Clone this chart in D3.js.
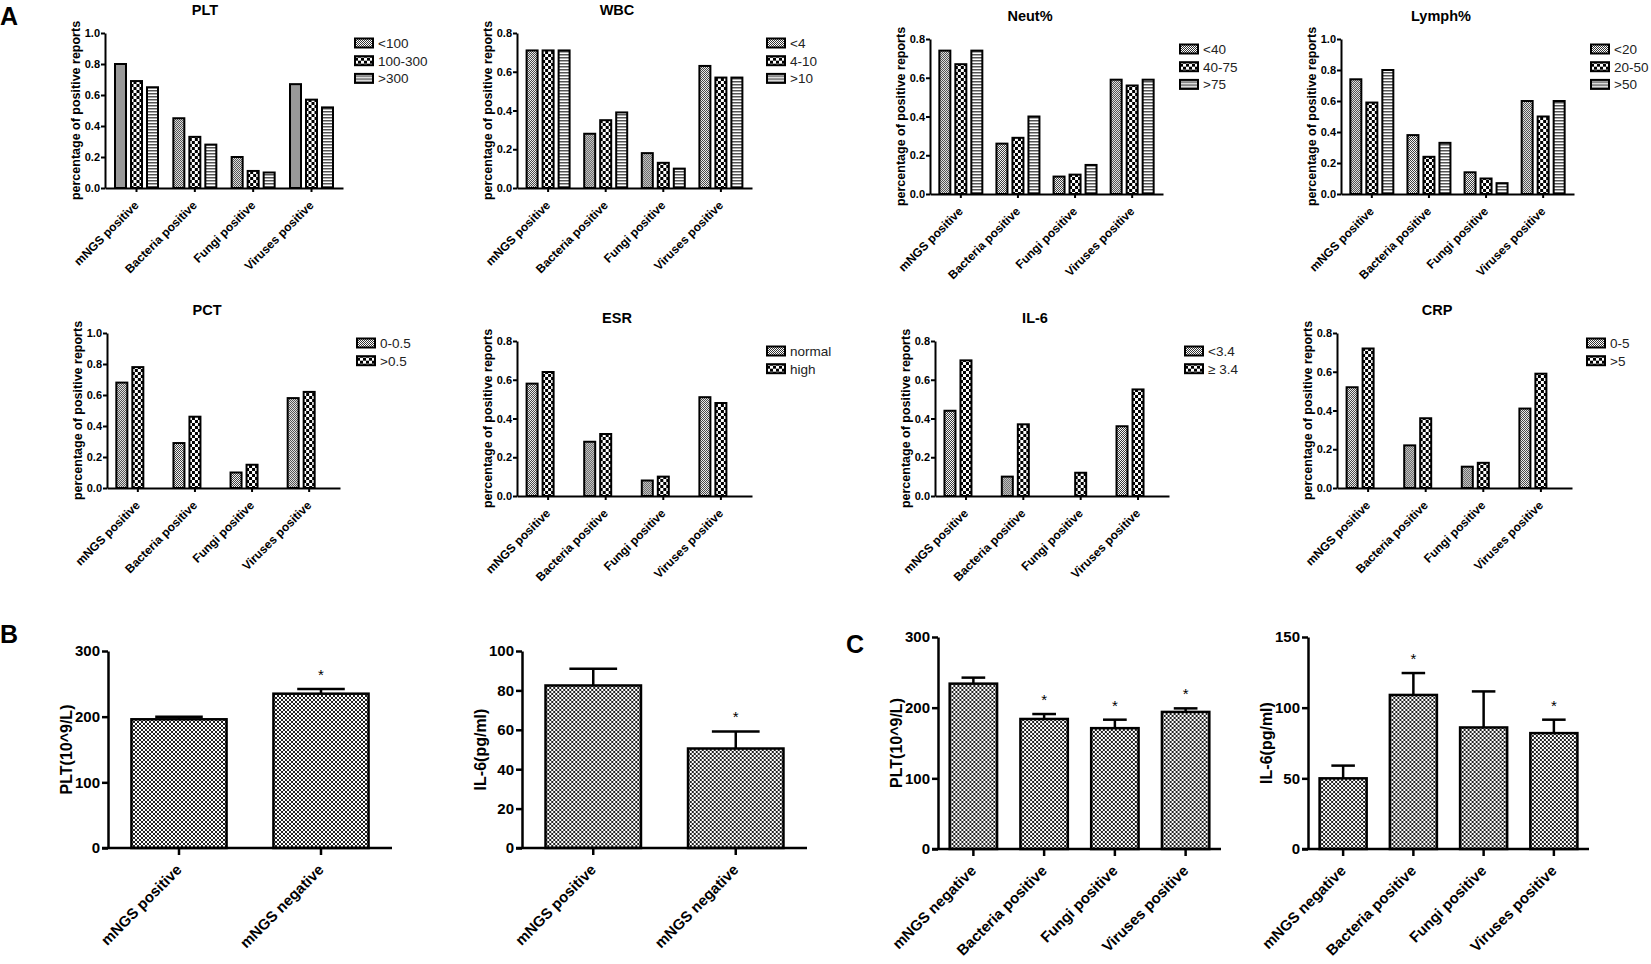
<!DOCTYPE html>
<html lang="en">
<head>
<meta charset="utf-8">
<title>mNGS positive reports and laboratory indices</title>
<script src="https://cdn.jsdelivr.net/npm/d3@7/dist/d3.min.js"></script>
<style>
  body { margin: 0; background: #fff; }
  text { font-family: "Liberation Sans", Arial, sans-serif; fill: #000; }
  .tick text { font-weight: bold; }
  .small .tick text { font-size: 11px; }
  .big .tick text {
    font-family: "Liberation Sans Narrow", "Arial Narrow", "Liberation Sans", sans-serif;
    font-stretch: condensed;
    font-size: 15px;
  }
  .title { font-size: 14.5px; font-weight: bold; }
  .ylab { font-size: 12.5px; font-weight: bold; }
  .ylab-big { font-size: 16px; font-weight: bold; }
  .small .tick text.xlab { font-size: 12px; font-weight: bold; }
  .big .tick text.xlab-big {
    font-family: "Liberation Sans", Arial, sans-serif;
    font-stretch: normal;
    font-size: 15px;
    font-weight: bold;
  }
  .legend { font-size: 13.5px; fill: #222; }
  .star { font-size: 15px; }
  .letter { font-size: 25px; font-weight: bold; }
</style>
</head>
<body>
<script>

var w = 1651;
var h = 964;

// ---- data: panel A ----
var groups = ["mNGS positive", "Bacteria positive", "Fungi positive", "Viruses positive"];

var pltLevels = ["<100", "100-300", ">300"];
var pltValues = [[0.80, 0.69, 0.65], [0.45, 0.33, 0.28], [0.20, 0.11, 0.10], [0.67, 0.57, 0.52]];

var wbcLevels = ["<4", "4-10", ">10"];
var wbcValues = [[0.71, 0.71, 0.71], [0.28, 0.35, 0.39], [0.18, 0.13, 0.10], [0.63, 0.57, 0.57]];

var neutLevels = ["<40", "40-75", ">75"];
var neutValues = [[0.74, 0.67, 0.74], [0.26, 0.29, 0.40], [0.09, 0.10, 0.15], [0.59, 0.56, 0.59]];

var lymphLevels = ["<20", "20-50", ">50"];
var lymphValues = [[0.74, 0.59, 0.80], [0.38, 0.24, 0.33], [0.14, 0.10, 0.07], [0.60, 0.50, 0.60]];

var pctLevels = ["0-0.5", ">0.5"];
var pctValues = [[0.68, 0.78], [0.29, 0.46], [0.10, 0.15], [0.58, 0.62]];

var esrLevels = ["normal", "high"];
var esrValues = [[0.58, 0.64], [0.28, 0.32], [0.08, 0.10], [0.51, 0.48]];

var il6Levels = ["<3.4", "\u2265 3.4"];
var il6Values = [[0.44, 0.70], [0.10, 0.37], [0.00, 0.12], [0.36, 0.55]];

var crpLevels = ["0-5", ">5"];
var crpValues = [[0.52, 0.72], [0.22, 0.36], [0.11, 0.13], [0.41, 0.59]];

// ---- data: panels B and C ----
var bCats = ["mNGS positive", "mNGS negative"];
var bPltMeans = [196, 235];
var bPltErrs = [4, 7];
var bPltStars = [false, true];
var bIl6Means = [82.5, 50.5];
var bIl6Errs = [8.5, 8.7];
var bIl6Stars = [false, true];

var cCats = ["mNGS negative", "Bacteria positive", "Fungi positive", "Viruses positive"];
var cPltMeans = [234, 184, 171, 194];
var cPltErrs = [8.5, 7, 12, 5];
var cPltStars = [false, true, true, true];
var cIl6Means = [50, 109, 86, 82];
var cIl6Errs = [9, 15.5, 25.5, 9.5];
var cIl6Stars = [false, true, false, true];

var svg = d3.select("body").append("svg")
    .attr("width", w)
    .attr("height", h);

// ---- fill patterns ----
var defs = svg.append("defs");

var dots = defs.append("pattern").attr("id", "p-dots")
    .attr("patternUnits", "userSpaceOnUse").attr("width", 2).attr("height", 2);
dots.append("rect").attr("width", 2).attr("height", 2).attr("fill", "#fff");
dots.append("rect").attr("width", 1).attr("height", 1).attr("fill", "#333");
dots.append("rect").attr("x", 1).attr("y", 1).attr("width", 1).attr("height", 1).attr("fill", "#333");

var check = defs.append("pattern").attr("id", "p-check")
    .attr("patternUnits", "userSpaceOnUse").attr("width", 6).attr("height", 6);
check.append("rect").attr("width", 6).attr("height", 6).attr("fill", "#000");
check.append("rect").attr("width", 3).attr("height", 3).attr("fill", "#fff");
check.append("rect").attr("x", 3).attr("y", 3).attr("width", 3).attr("height", 3).attr("fill", "#fff");

var hline = defs.append("pattern").attr("id", "p-hline")
    .attr("patternUnits", "userSpaceOnUse").attr("width", 4).attr("height", 3);
hline.append("rect").attr("width", 4).attr("height", 3).attr("fill", "#fff");
hline.append("rect").attr("width", 4).attr("height", 1.5).attr("fill", "#555");

var fine = defs.append("pattern").attr("id", "p-fine")
    .attr("patternUnits", "userSpaceOnUse").attr("width", 4).attr("height", 4);
fine.append("rect").attr("width", 4).attr("height", 4).attr("fill", "#fff");
fine.append("rect").attr("width", 2).attr("height", 2).attr("fill", "#222");
fine.append("rect").attr("x", 2).attr("y", 2).attr("width", 2).attr("height", 2).attr("fill", "#222");

var fills = ["url(#p-dots)", "url(#p-check)", "url(#p-hline)"];

// ---- panel A: grouped bars ----
var panelsA = [
  { title: "PLT",    levels: pltLevels,   values: pltValues,   yMax: 1.0, x: 105,  y: 33,  w: 238 },
  { title: "WBC",    levels: wbcLevels,   values: wbcValues,   yMax: 0.8, x: 517,  y: 33,  w: 235 },
  { title: "Neut%",  levels: neutLevels,  values: neutValues,  yMax: 0.8, x: 930,  y: 39,  w: 233 },
  { title: "Lymph%", levels: lymphLevels, values: lymphValues, yMax: 1.0, x: 1341, y: 39,  w: 233 },
  { title: "PCT",    levels: pctLevels,   values: pctValues,   yMax: 1.0, x: 107,  y: 333, w: 233 },
  { title: "ESR",    levels: esrLevels,   values: esrValues,   yMax: 0.8, x: 517,  y: 341, w: 235 },
  { title: "IL-6",   levels: il6Levels,   values: il6Values,   yMax: 0.8, x: 935,  y: 341, w: 234 },
  { title: "CRP",    levels: crpLevels,   values: crpValues,   yMax: 0.8, x: 1337, y: 333, w: 235 }
];

panelsA.forEach(function(p) {
  var ph = 155;
  var g = svg.append("g").attr("class", "small")
      .attr("transform", "translate(" + p.x + "," + p.y + ")");

  var y = d3.scaleLinear().domain([0, p.yMax]).range([ph, 0]);
  var x0 = d3.scaleBand().domain(groups).range([0, p.w]).paddingOuter(0.04);
  var x1 = d3.scaleBand().domain([0, 1, 2]).range([-21.5, 21.5]).paddingInner(0.3125);

  var grp = g.selectAll("g.grp")
      .data(p.values)
      .enter()
      .append("g")
      .attr("class", "grp")
      .attr("transform", function(d, i) {
          return "translate(" + (x0(groups[i]) + x0.bandwidth() / 2) + ",0)";
      });

  grp.selectAll("rect")
      .data(function(d) {
          return d.map(function(v, k) { return { v: v, k: k }; })
                  .filter(function(e) { return e.v > 0; });
      })
      .enter()
      .append("rect")
      .attr("x", function(d) { return x1(d.k); })
      .attr("y", function(d) { return y(d.v); })
      .attr("width", x1.bandwidth())
      .attr("height", function(d) { return ph - y(d.v); })
      .attr("fill", function(d) { return fills[d.k]; })
      .attr("stroke", "#000")
      .attr("stroke-width", 2);

  var ya = g.append("g")
      .call(d3.axisLeft(y)
          .tickValues(d3.range(0, p.yMax + 1e-9, 0.2))
          .tickFormat(d3.format(".1f"))
          .tickSize(4)
          .tickSizeOuter(0)
          .tickPadding(1));
  ya.select(".domain").attr("stroke-width", 2);
  ya.selectAll(".tick line").attr("stroke-width", 2);

  var xa = g.append("g")
      .attr("transform", "translate(0," + ph + ")")
      .call(d3.axisBottom(x0).tickSize(4).tickSizeOuter(0));
  xa.select(".domain").attr("stroke-width", 2);
  xa.selectAll(".tick line").attr("stroke-width", 2);
  xa.selectAll(".tick text")
      .attr("class", "xlab")
      .attr("x", 0)
      .attr("y", 0)
      .attr("dy", "0.35em")
      .attr("text-anchor", "end")
      .attr("transform", "translate(0,15) rotate(-45)");

  g.append("text")
      .attr("class", "title")
      .attr("x", 100)
      .attr("y", -18)
      .attr("text-anchor", "middle")
      .text(p.title);

  g.append("text")
      .attr("class", "ylab")
      .attr("transform", "translate(-29," + (ph / 2) + ") rotate(-90)")
      .attr("dy", "0.35em")
      .attr("text-anchor", "middle")
      .text("percentage of positive reports");

  var lg = g.selectAll("g.leg")
      .data(p.levels)
      .enter()
      .append("g")
      .attr("class", "leg")
      .attr("transform", function(d, i) { return "translate(250," + (10 + i * 17.7) + ")"; });
  lg.append("rect")
      .attr("x", 0)
      .attr("y", -4.5)
      .attr("width", 18)
      .attr("height", 9)
      .attr("fill", function(d, i) { return fills[i]; })
      .attr("stroke", "#000")
      .attr("stroke-width", 2);
  lg.append("text")
      .attr("class", "legend")
      .attr("x", 23)
      .attr("dy", "0.36em")
      .text(function(d) { return d; });
});

// ---- panels B and C: mean + error bars ----
var panelsBC = [
  { cats: bCats, means: bPltMeans, errs: bPltErrs, stars: bPltStars, yMax: 300, step: 100,
    label: "PLT(10^9/L)", x: 108, y: 651, w: 284, h: 197 },
  { cats: bCats, means: bIl6Means, errs: bIl6Errs, stars: bIl6Stars, yMax: 100, step: 20,
    label: "IL-6(pg/ml)", x: 522, y: 651, w: 285, h: 197 },
  { cats: cCats, means: cPltMeans, errs: cPltErrs, stars: cPltStars, yMax: 300, step: 100,
    label: "PLT(10^9/L)", x: 938, y: 637, w: 283, h: 212 },
  { cats: cCats, means: cIl6Means, errs: cIl6Errs, stars: cIl6Stars, yMax: 150, step: 50,
    label: "IL-6(pg/ml)", x: 1308, y: 637, w: 281, h: 212 }
];

panelsBC.forEach(function(p) {
  var g = svg.append("g").attr("class", "big")
      .attr("transform", "translate(" + p.x + "," + p.y + ")");

  var y = d3.scaleLinear().domain([0, p.yMax]).range([p.h, 0]);
  var x = d3.scaleBand().domain(p.cats).range([0, p.w]).paddingInner(0.33).paddingOuter(0.165);
  var bw = x.bandwidth();

  var rows = p.cats.map(function(c, i) {
      return { cat: c, mean: p.means[i], err: p.errs[i], star: p.stars[i] };
  });

  var bar = g.selectAll("g.bar")
      .data(rows)
      .enter()
      .append("g")
      .attr("class", "bar")
      .attr("transform", function(d) { return "translate(" + (x(d.cat) + bw / 2) + ",0)"; });

  bar.append("line")
      .attr("x1", 0).attr("x2", 0)
      .attr("y1", function(d) { return y(d.mean); })
      .attr("y2", function(d) { return y(d.mean + d.err); })
      .attr("stroke", "#000").attr("stroke-width", 2.5);
  bar.append("line")
      .attr("x1", -bw / 4).attr("x2", bw / 4)
      .attr("y1", function(d) { return y(d.mean + d.err); })
      .attr("y2", function(d) { return y(d.mean + d.err); })
      .attr("stroke", "#000").attr("stroke-width", 2.5);
  bar.append("rect")
      .attr("x", -bw / 2)
      .attr("y", function(d) { return y(d.mean); })
      .attr("width", bw)
      .attr("height", function(d) { return p.h - y(d.mean); })
      .attr("fill", "url(#p-fine)")
      .attr("stroke", "#000")
      .attr("stroke-width", 2.5);
  bar.filter(function(d) { return d.star; })
      .append("text")
      .attr("class", "star")
      .attr("y", function(d) { return y(d.mean + d.err) - 9; })
      .attr("text-anchor", "middle")
      .text("*");

  var ya = g.append("g")
      .call(d3.axisLeft(y)
          .tickValues(d3.range(0, p.yMax + 1e-9, p.step))
          .tickSize(6)
          .tickSizeOuter(0)
          .tickPadding(2));
  ya.select(".domain").attr("stroke-width", 2.5);
  ya.selectAll(".tick line").attr("stroke-width", 2.5);

  var xa = g.append("g")
      .attr("transform", "translate(0," + p.h + ")")
      .call(d3.axisBottom(x).tickSize(7).tickSizeOuter(0));
  xa.select(".domain").remove();
  xa.append("line")
      .attr("x1", -6).attr("x2", p.w)
      .attr("stroke", "#000").attr("stroke-width", 2.5);
  xa.selectAll(".tick line").attr("stroke-width", 2.5);
  xa.selectAll(".tick text")
      .attr("class", "xlab-big")
      .attr("x", 0)
      .attr("y", 0)
      .attr("dy", "0.35em")
      .attr("text-anchor", "end")
      .attr("transform", "translate(0,19) rotate(-45)");

  g.append("text")
      .attr("class", "ylab-big")
      .attr("transform", "translate(-42," + (p.h / 2) + ") rotate(-90)")
      .attr("dy", "0.35em")
      .attr("text-anchor", "middle")
      .text(p.label);
});

// ---- panel letters ----
svg.append("text").attr("class", "letter").attr("x", 0).attr("y", 25).text("A");
svg.append("text").attr("class", "letter").attr("x", 0).attr("y", 643).text("B");
svg.append("text").attr("class", "letter").attr("x", 846).attr("y", 653).text("C");

</script>
</body>
</html>
